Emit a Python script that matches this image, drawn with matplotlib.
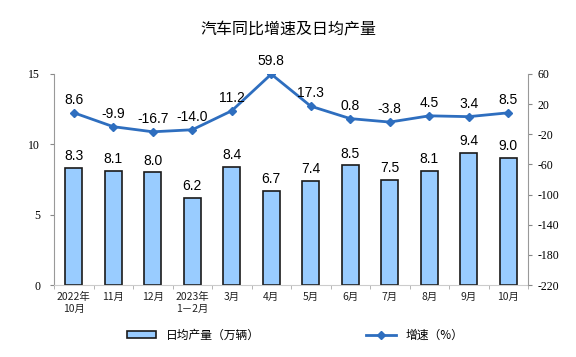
import matplotlib
matplotlib.use("Agg")
import matplotlib.pyplot as plt
import numpy as np
from matplotlib.lines import Line2D
from matplotlib.patches import Patch

categories = ["2022年\n10月", "11月", "12月", "2023年\n1－2月", "3月", "4月", "5月", "6月", "7月", "8月", "9月", "10月"]
daily_output = [8.3, 8.1, 8.0, 6.2, 8.4, 6.7, 7.4, 8.5, 7.5, 8.1, 9.4, 9.0]
growth = [8.6, -9.9, -16.7, -14.0, 11.2, 59.8, 17.3, 0.8, -3.8, 4.5, 3.4, 8.5]
left_ticks = [0, 5, 10, 15]
right_ticks = [-220, -180, -140, -100, -60, -20, 20, 60]

cjk = ["Noto Sans CJK SC", "DejaVu Sans"]
serif = ["Liberation Serif", "DejaVu Serif"]
sans = ["Liberation Sans", "DejaVu Sans"]

fig = plt.figure(figsize=(5.76, 3.57), dpi=100)
ax = fig.add_axes([54/576, 1-285/357, (528-54)/576, (285-74)/357])
x = np.arange(len(categories))
ax.bar(x, daily_output, width=0.42, color="#99CCFF", edgecolor="#1a1a1a", linewidth=1.2, zorder=2)
for xi, v in zip(x, daily_output):
    ax.text(xi, v + 0.35, f"{v:.1f}", ha="center", va="bottom", fontsize=10, family=sans)
ax.set_xlim(-0.5, len(categories) - 0.5)
ax.set_ylim(0, 15)
ax.set_yticks(left_ticks)
ax.set_yticklabels([str(t) for t in left_ticks], family=serif, fontsize=8.5)
ax.set_xticks(x)
ax.set_xticklabels(categories, family=cjk, fontsize=7.5, color="#222222", linespacing=1.3)
ax.set_xticks(np.arange(-0.5, len(categories), 1), minor=True)
ax.tick_params(axis="x", which="major", length=0, pad=5)
ax.tick_params(axis="x", which="minor", length=3, color="#aaaaaa")
ax.tick_params(axis="y", length=3, color="#888888", pad=7)
for s in ["top", "right"]:
    ax.spines[s].set_visible(False)
ax.spines["left"].set_color("#999999")
ax.spines["bottom"].set_color("#cccccc")

ax2 = ax.twinx()
ax2.plot(x, growth, color="#2E6EBF", linewidth=2, marker="D", markersize=4.5, zorder=3)
for xi, v in zip(x, growth):
    ax2.text(xi, v + 8, f"{v:.1f}", ha="center", va="bottom", fontsize=10, family=sans)
ax2.set_ylim(-220, 60)
ax2.set_yticks(right_ticks)
ax2.set_yticklabels([str(t) for t in right_ticks], family=serif, fontsize=8.5)
ax2.tick_params(axis="y", length=3, color="#888888", pad=4)
for s in ["top", "left", "bottom"]:
    ax2.spines[s].set_visible(False)
ax2.spines["right"].set_color("#999999")

fig.text(288/576, 1-30/357, "汽车同比增速及日均产量", ha="center", va="center", family=cjk, fontsize=11.5)

handles = [Patch(facecolor="#99CCFF", edgecolor="#1a1a1a", linewidth=1.2),
           Line2D([], [], color="#2E6EBF", linewidth=2, marker="D", markersize=4.5)]
fig.legend(handles, ["日均产量（万辆）", "增速（%）"], loc="center", bbox_to_anchor=(295/576, 1-335/357),
           ncol=2, frameon=False, prop={"family": cjk, "size": 8.5}, columnspacing=9, handlelength=2.5,
           handleheight=0.6)

fig.savefig("out.png", dpi=100)
